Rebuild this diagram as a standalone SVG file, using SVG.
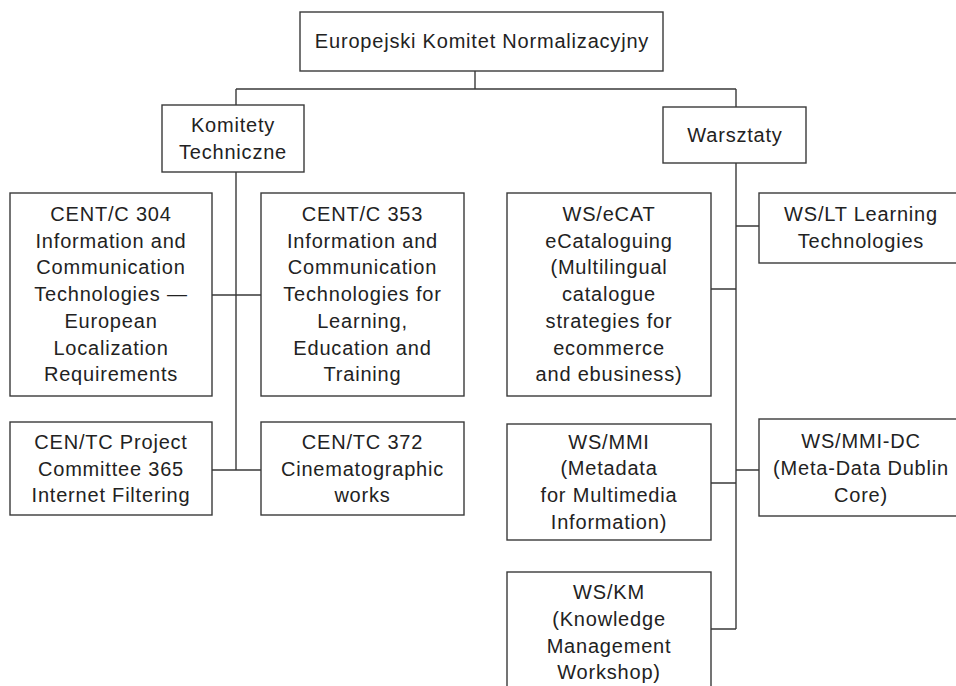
<svg xmlns="http://www.w3.org/2000/svg" width="956" height="686" viewBox="0 0 956 686">
<style>
rect.b{fill:#fff;stroke:#3a3a3a;stroke-width:1.4}
text{font-family:"Liberation Sans",Arial,sans-serif;font-size:20px;fill:#222;text-anchor:middle;letter-spacing:0.8px}
#connectors path{fill:none;stroke:#3a3a3a;stroke-width:1.4}
</style>
<rect width="956" height="686" fill="#fff"/>
<g id="connectors">
<path d="M475,71V89M236,89H736M236,89V105M736,89V107"/>
<path d="M236,172V470M212,295H261M212,470H261"/>
<path d="M736,163V629M711,289H736M736,226H759M736,470H759M711,483H736M711,629H736"/>
</g>
<g id="root"><rect class="b" x="300" y="12" width="363" height="59"/><text x="482" y="48">Europejski Komitet Normalizacyjny</text></g>
<g id="komitety"><rect class="b" x="162" y="105" width="142" height="67"/><text x="233" y="132">Komitety</text><text x="233" y="159">Techniczne</text></g>
<g id="warsztaty"><rect class="b" x="663" y="107" width="143" height="56"/><text x="735" y="142">Warsztaty</text></g>
<g id="tc304"><rect class="b" x="10" y="193" width="202" height="203"/>
<text x="111"><tspan x="111" y="221">CENT/C 304</tspan><tspan x="111" y="247.7">Information and</tspan><tspan x="111" y="274.4">Communication</tspan><tspan x="111" y="301.1">Technologies —</tspan><tspan x="111" y="327.8">European</tspan><tspan x="111" y="354.5">Localization</tspan><tspan x="111" y="381.2">Requirements</tspan></text></g>
<g id="tc353"><rect class="b" x="261" y="193" width="203" height="203"/>
<text x="362.5"><tspan x="362.5" y="221">CENT/C 353</tspan><tspan x="362.5" y="247.7">Information and</tspan><tspan x="362.5" y="274.4">Communication</tspan><tspan x="362.5" y="301.1">Technologies for</tspan><tspan x="362.5" y="327.8">Learning,</tspan><tspan x="362.5" y="354.5">Education and</tspan><tspan x="362.5" y="381.2">Training</tspan></text></g>
<g id="tc365"><rect class="b" x="10" y="422" width="202" height="93"/>
<text x="111"><tspan x="111" y="449">CEN/TC Project</tspan><tspan x="111" y="475.7">Committee 365</tspan><tspan x="111" y="502.4">Internet Filtering</tspan></text></g>
<g id="tc372"><rect class="b" x="261" y="422" width="203" height="93"/>
<text x="362.5"><tspan x="362.5" y="449">CEN/TC 372</tspan><tspan x="362.5" y="475.7">Cinematographic</tspan><tspan x="362.5" y="502.4">works</tspan></text></g>
<g id="wsecat"><rect class="b" x="507" y="193" width="204" height="203"/>
<text x="609"><tspan x="609" y="221">WS/eCAT</tspan><tspan x="609" y="247.7">eCataloguing</tspan><tspan x="609" y="274.4">(Multilingual</tspan><tspan x="609" y="301.1">catalogue</tspan><tspan x="609" y="327.8">strategies for</tspan><tspan x="609" y="354.5">ecommerce</tspan><tspan x="609" y="381.2">and ebusiness)</tspan></text></g>
<g id="wslt"><rect class="b" x="759" y="193" width="204" height="70"/>
<text x="861"><tspan x="861" y="221">WS/LT Learning</tspan><tspan x="861" y="247.7">Technologies</tspan></text></g>
<g id="wsmmi"><rect class="b" x="507" y="424" width="204" height="116"/>
<text x="609"><tspan x="609" y="448.5">WS/MMI</tspan><tspan x="609" y="475.2">(Metadata</tspan><tspan x="609" y="501.9">for Multimedia</tspan><tspan x="609" y="528.6">Information)</tspan></text></g>
<g id="wsmmidc"><rect class="b" x="759" y="419" width="204" height="97"/>
<text x="861"><tspan x="861" y="448.3">WS/MMI-DC</tspan><tspan x="861" y="475">(Meta-Data Dublin</tspan><tspan x="861" y="501.7">Core)</tspan></text></g>
<g id="wskm"><rect class="b" x="507" y="572" width="204" height="130"/>
<text x="609"><tspan x="609" y="599.3">WS/KM</tspan><tspan x="609" y="626">(Knowledge</tspan><tspan x="609" y="652.7">Management</tspan><tspan x="609" y="679.4">Workshop)</tspan></text></g>
</svg>
